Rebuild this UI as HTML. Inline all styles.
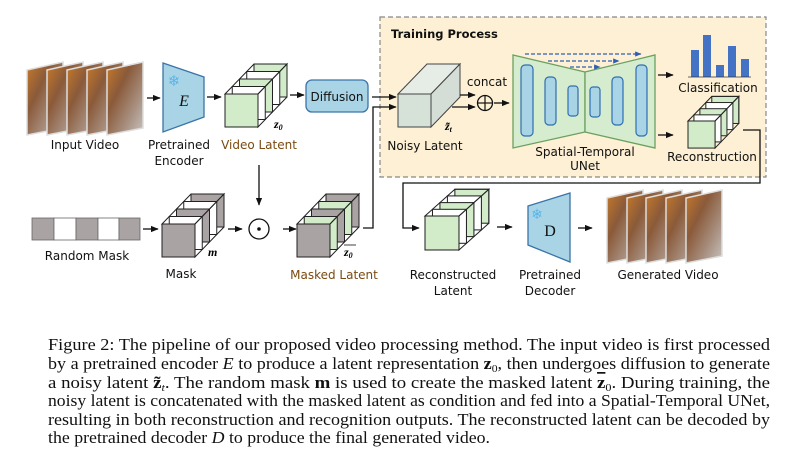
<!DOCTYPE html>
<html><head><meta charset="utf-8"><style>
html,body{margin:0;padding:0;background:#fff;}
svg{display:block;}
.l{font-family:"DejaVu Sans","Liberation Sans",sans-serif;font-size:12px;fill:#111;text-anchor:middle;}
.c{font-family:"Liberation Serif",serif;font-size:17px;fill:#111;}
</style></head><body>
<svg width="792" height="462" viewBox="0 0 792 462" xmlns="http://www.w3.org/2000/svg">
<defs>
<marker id="a" viewBox="0 0 10 10" refX="9" refY="5" markerWidth="6" markerHeight="6" orient="auto"><path d="M0,1 L10,5 L0,9 z" fill="#111"/></marker>
<marker id="b" viewBox="0 0 10 10" refX="9" refY="5" markerWidth="5" markerHeight="5" orient="auto"><path d="M0,1 L10,5 L0,9 z" fill="#2f5fb0"/></marker>
<linearGradient id="fg" x1="0" y1="0" x2="1" y2="1">
<stop offset="0" stop-color="#c87a2a"/><stop offset="0.35" stop-color="#8a5a3a"/><stop offset="0.7" stop-color="#a89080"/><stop offset="1" stop-color="#c8c4c0"/></linearGradient>
<g id="fr"><polygon points="0,8 36,0 36,66 0,73" fill="url(#fg)" stroke="#ddd" stroke-width="1.5"/></g>
</defs>

<!-- training box -->
<rect x="380" y="17" width="386" height="160" fill="#fdf0d4" stroke="#888" stroke-dasharray="5,3" stroke-width="1.2"/>
<text x="391" y="38" font-family="DejaVu Sans,sans-serif" font-size="11.5" font-weight="bold" fill="#111">Training Process</text>

<!-- input frames -->
<use href="#fr" x="27" y="62"/><use href="#fr" x="47" y="62"/><use href="#fr" x="67" y="62"/><use href="#fr" x="87" y="62"/><use href="#fr" x="107" y="62"/>
<line x1="147" y1="98" x2="160" y2="98" stroke="#111" stroke-width="1.3" marker-end="url(#a)"/>
<!-- encoder -->
<polygon points="163,63 204,77 204,117 163,132" fill="#a8d4e6" stroke="#3a74a8" stroke-width="1.3"/>
<text x="174" y="86" font-family="DejaVu Sans,sans-serif" font-size="15" fill="#5bb5e8" text-anchor="middle">❄</text>
<text x="184" y="106" font-family="Liberation Serif,serif" font-style="italic" font-size="16" fill="#111" text-anchor="middle">E</text>
<line x1="207" y1="97" x2="221" y2="97" stroke="#111" stroke-width="1.3" marker-end="url(#a)"/>

<!-- video latent cube -->
<g transform="translate(225,94)" stroke="#222" stroke-width="1">
<rect x="29" y="-30" width="33" height="33" fill="#d2ebc8"/><rect x="21.75" y="-22.5" width="33" height="33" fill="#fff"/><rect x="14.5" y="-15" width="33" height="33" fill="#d2ebc8"/><rect x="7.25" y="-7.5" width="33" height="33" fill="#fff"/>
<polygon points="0,0 29,-30 62,-30 33,0" fill="none"/><polygon points="33,0 62,-30 62,3 33,33" fill="none"/>
<rect x="0" y="0" width="33" height="33" fill="#d2ebc8"/></g>
<text x="274" y="128" font-family="Liberation Serif,serif" font-style="italic" font-weight="bold" font-size="12">z<tspan font-size="8" dy="2">0</tspan></text>
<line x1="290" y1="95" x2="304" y2="95" stroke="#111" stroke-width="1.3" marker-end="url(#a)"/>
<rect x="306" y="80" width="62" height="32" rx="6" fill="#a8d4e6" stroke="#3a74a8" stroke-width="1.3"/>
<text x="337" y="101" class="l" font-size="12">Diffusion</text>
<line x1="372" y1="97" x2="396" y2="97" stroke="#111" stroke-width="1.3" marker-end="url(#a)"/>

<text class="l" x="85" y="149">Input Video</text>
<text class="l" x="179" y="149">Pretrained</text><text class="l" x="179" y="165">Encoder</text>
<text class="l" x="259" y="149" style="fill:#7a4a10">Video Latent</text>
<line x1="259" y1="165" x2="259" y2="205" stroke="#111" stroke-width="1.3" marker-end="url(#a)"/>

<!-- random mask -->
<g stroke="#666" stroke-width="0.8"><rect x="32" y="218" width="22" height="22" fill="#aaa3a3"/><rect x="54" y="218" width="22" height="22" fill="#fff"/><rect x="76" y="218" width="22" height="22" fill="#aaa3a3"/><rect x="98" y="218" width="21" height="22" fill="#fff"/><rect x="119" y="218" width="21" height="22" fill="#aaa3a3"/></g>
<line x1="143" y1="229" x2="158" y2="229" stroke="#111" stroke-width="1.3" marker-end="url(#a)"/>
<!-- mask cube -->
<g transform="translate(162,224)" stroke="#222" stroke-width="1">
<rect x="29" y="-30" width="33" height="33" fill="#aaa3a3"/><rect x="21.75" y="-22.5" width="33" height="33" fill="#fff"/><rect x="14.5" y="-15" width="33" height="33" fill="#aaa3a3"/><rect x="7.25" y="-7.5" width="33" height="33" fill="#fff"/>
<polygon points="0,0 29,-30 62,-30 33,0" fill="none"/><polygon points="33,0 62,-30 62,3 33,33" fill="none"/>
<rect x="0" y="0" width="33" height="33" fill="#aaa3a3"/></g>
<text x="208" y="256" font-family="Liberation Serif,serif" font-style="italic" font-weight="bold" font-size="12">m</text>
<line x1="228" y1="229" x2="242" y2="229" stroke="#111" stroke-width="1.3" marker-end="url(#a)"/>
<circle cx="259" cy="229" r="10" fill="#fff" stroke="#111" stroke-width="1.3"/><circle cx="259" cy="229" r="1.8" fill="#111"/>
<line x1="283" y1="229" x2="296" y2="229" stroke="#111" stroke-width="1.3" marker-end="url(#a)"/>
<!-- masked latent -->
<g transform="translate(297,224)" stroke="#222" stroke-width="1">
<rect x="29" y="-30" width="33" height="33" fill="#aaa3a3"/><rect x="21.75" y="-22.5" width="33" height="33" fill="#d2ebc8"/><rect x="14.5" y="-15" width="33" height="33" fill="#aaa3a3"/><rect x="7.25" y="-7.5" width="33" height="33" fill="#d2ebc8"/>
<polygon points="0,0 29,-30 62,-30 33,0" fill="none"/><polygon points="33,0 62,-30 62,3 33,33" fill="none"/>
<rect x="0" y="0" width="33" height="33" fill="#aaa3a3"/></g>
<line x1="344" y1="245" x2="356" y2="245" stroke="#111" stroke-width="0.8"/>
<text x="344" y="256" font-family="Liberation Serif,serif" font-style="italic" font-weight="bold" font-size="12">z<tspan font-size="8" dy="2">0</tspan></text>
<polyline points="363,228 373,228 373,107 396,107" fill="none" stroke="#111" stroke-width="1.3" marker-end="url(#a)"/>
<text class="l" x="87" y="260">Random Mask</text>
<text class="l" x="181" y="278">Mask</text>
<text class="l" x="334" y="279" style="fill:#7a4a10">Masked Latent</text>

<!-- noisy latent -->
<g transform="translate(398,94)" stroke="#444" stroke-width="1">
<rect x="29" y="-30" width="33" height="33" fill="#dce6de"/><rect x="21.75" y="-22.5" width="33" height="33" fill="#e6ece6"/><rect x="14.5" y="-15" width="33" height="33" fill="#dce6de"/><rect x="7.25" y="-7.5" width="33" height="33" fill="#e6ece6"/>
<polygon points="0,0 29,-30 62,-30 33,0" fill="#e6ece6"/><polygon points="33,0 62,-30 62,3 33,33" fill="#d4ddd6"/>
<rect x="0" y="0" width="33" height="33" fill="#d6e2d8"/></g>
<text x="445" y="130" font-family="Liberation Serif,serif" font-style="italic" font-weight="bold" font-size="12">z̃<tspan font-size="8" dy="2">t</tspan></text>
<text class="l" x="425" y="150">Noisy Latent</text>
<line x1="460" y1="95" x2="475" y2="95" stroke="#111" stroke-width="1.3" marker-end="url(#a)"/>
<line x1="452" y1="107" x2="475" y2="107" stroke="#111" stroke-width="1.3" marker-end="url(#a)"/>
<text x="487" y="86" class="l" font-size="12.5">concat</text>
<circle cx="485" cy="103" r="7.5" fill="none" stroke="#111" stroke-width="1.3"/><line x1="477.5" y1="103" x2="492.5" y2="103" stroke="#111" stroke-width="1.2"/><line x1="485" y1="95.5" x2="485" y2="110.5" stroke="#111" stroke-width="1.2"/>
<line x1="494" y1="103" x2="509" y2="103" stroke="#111" stroke-width="1.3" marker-end="url(#a)"/>

<!-- unet -->
<polygon points="513,55 585,72 585,132 513,148" fill="#d6ecce" stroke="#6aa060" stroke-width="1.3"/>
<polygon points="585,72 655,55 655,148 585,132" fill="#d6ecce" stroke="#6aa060" stroke-width="1.3"/>
<g fill="#a8d4e6" stroke="#2f6fb0" stroke-width="1.2">
<rect x="521" y="65" width="12" height="71" rx="4"/><rect x="545" y="77" width="11" height="48" rx="4"/><rect x="568" y="86" width="10" height="30" rx="3"/><rect x="590" y="87" width="10" height="30" rx="3"/><rect x="612" y="77" width="11" height="48" rx="4"/><rect x="636" y="65" width="11" height="71" rx="4"/></g>
<g stroke="#2f5fb0" stroke-width="1.3" stroke-dasharray="4,2">
<line x1="525" y1="54" x2="641" y2="54" marker-end="url(#b)"/><line x1="548" y1="61" x2="619" y2="61" marker-end="url(#b)"/><line x1="570" y1="67" x2="600" y2="67" marker-end="url(#b)"/></g>
<text class="l" x="585" y="156">Spatial-Temporal</text><text class="l" x="585" y="170">UNet</text>
<line x1="658" y1="75" x2="673" y2="75" stroke="#111" stroke-width="1.3" marker-end="url(#a)"/>
<line x1="658" y1="135" x2="673" y2="135" stroke="#111" stroke-width="1.3" marker-end="url(#a)"/>
<g fill="#4472c4"><rect x="691" y="50" width="8" height="27"/><rect x="703" y="35" width="8" height="42"/><rect x="716" y="65" width="8" height="12"/><rect x="728" y="46" width="8" height="31"/><rect x="741" y="59" width="8" height="18"/></g>
<line x1="688" y1="77" x2="751" y2="77" stroke="#333" stroke-width="0.8"/>
<text class="l" x="718" y="92">Classification</text>
<!-- reconstruction cube -->
<g transform="translate(688,121) scale(0.82)" stroke="#222" stroke-width="1.2">
<rect x="29" y="-30" width="33" height="33" fill="#d2ebc8"/><rect x="21.75" y="-22.5" width="33" height="33" fill="#fff"/><rect x="14.5" y="-15" width="33" height="33" fill="#d2ebc8"/><rect x="7.25" y="-7.5" width="33" height="33" fill="#fff"/>
<polygon points="0,0 29,-30 62,-30 33,0" fill="none"/><polygon points="33,0 62,-30 62,3 33,33" fill="none"/>
<rect x="0" y="0" width="33" height="33" fill="#d2ebc8"/></g>
<text class="l" x="712" y="161">Reconstruction</text>
<polyline points="743,130 760,130 760,183 403,183 403,228 419,228" fill="none" stroke="#111" stroke-width="1.3" marker-end="url(#a)"/>

<!-- reconstructed latent -->
<g transform="translate(425,216) scale(1.03,1.03)" stroke="#222" stroke-width="1">
<rect x="29" y="-26" width="33" height="33" fill="#d2ebc8"/><rect x="21.75" y="-19.5" width="33" height="33" fill="#fff"/><rect x="14.5" y="-13" width="33" height="33" fill="#d2ebc8"/><rect x="7.25" y="-6.5" width="33" height="33" fill="#fff"/>
<polygon points="0,0 29,-26 62,-26 33,0" fill="none"/><polygon points="33,0 62,-26 62,7 33,33" fill="none"/>
<rect x="0" y="0" width="33" height="33" fill="#d2ebc8"/></g>
<line x1="497" y1="227" x2="512" y2="227" stroke="#111" stroke-width="1.3" marker-end="url(#a)"/>
<polygon points="528,206 570,193 570,262 528,245" fill="#a8d4e6" stroke="#3a74a8" stroke-width="1.3"/>
<text x="537" y="219" font-family="DejaVu Sans,sans-serif" font-size="14" fill="#5bb5e8" text-anchor="middle">❄</text>
<text x="550" y="236" font-family="Liberation Serif,serif" font-size="16" fill="#111" text-anchor="middle">D</text>
<line x1="578" y1="228" x2="592" y2="228" stroke="#111" stroke-width="1.3" marker-end="url(#a)"/>
<use href="#fr" x="607" y="190"/><use href="#fr" x="627" y="190"/><use href="#fr" x="646" y="190"/><use href="#fr" x="666" y="190"/><use href="#fr" x="686" y="190"/>
<text class="l" x="453" y="279">Reconstructed</text><text class="l" x="453" y="295">Latent</text>
<text class="l" x="550" y="279">Pretrained</text><text class="l" x="550" y="295">Decoder</text>
<text class="l" x="668" y="279">Generated Video</text>

<!-- caption -->
<text class="c" x="48" y="350" textLength="722" lengthAdjust="spacingAndGlyphs">Figure 2:  The pipeline of our proposed video processing method. The input video is first processed</text>
<text class="c" x="48" y="369" textLength="722" lengthAdjust="spacingAndGlyphs">by a pretrained encoder <tspan font-style="italic">E</tspan> to produce a latent representation <tspan font-weight="bold">z</tspan><tspan font-size="11" dy="3">0</tspan><tspan dy="-3">, then undergoes diffusion to generate</tspan></text>
<text class="c" x="48" y="388" textLength="722" lengthAdjust="spacingAndGlyphs">a noisy latent <tspan font-weight="bold">z̃</tspan><tspan font-size="11" font-style="italic" dy="3">t</tspan><tspan dy="-3">. The random mask </tspan><tspan font-weight="bold">m</tspan> is used to create the masked latent <tspan font-weight="bold" text-decoration="overline">z</tspan><tspan font-size="11" dy="3">0</tspan><tspan dy="-3">. During training, the</tspan></text>
<text class="c" x="48" y="406" textLength="722" lengthAdjust="spacingAndGlyphs">noisy latent is concatenated with the masked latent as condition and fed into a Spatial-Temporal UNet,</text>
<text class="c" x="48" y="425" textLength="722" lengthAdjust="spacingAndGlyphs">resulting in both reconstruction and recognition outputs. The reconstructed latent can be decoded by</text>
<text class="c" x="48" y="443" textLength="442" lengthAdjust="spacingAndGlyphs">the pretrained decoder <tspan font-style="italic">D</tspan> to produce the final generated video.</text>
</svg>
</body></html>
